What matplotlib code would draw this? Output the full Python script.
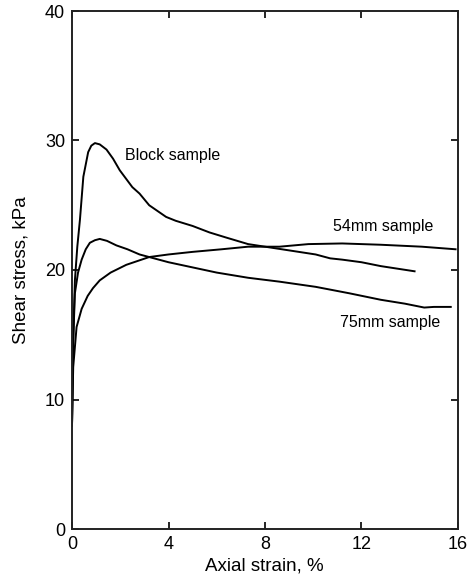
import matplotlib
matplotlib.use("Agg")
import matplotlib.pyplot as plt

plt.rcParams['font.family'] = ['Liberation Sans', 'DejaVu Sans']

# Block sample
block_x = [0, 0.04, 0.12, 0.22, 0.33, 0.47, 0.67, 0.8, 0.95, 1.15, 1.43, 1.7, 1.98, 2.5, 2.8,
           3.2, 3.9, 4.3, 5.0, 5.7, 6.4, 7.3, 8.0, 8.7, 9.4, 10.1, 10.7, 11.2, 12.0, 12.8,
           13.5, 14.2]
block_y = [8, 14, 19.2, 21.8, 23.9, 27.2, 29.1, 29.6, 29.8, 29.7, 29.3, 28.6, 27.7, 26.4, 25.9,
           25.0, 24.1, 23.8, 23.4, 22.9, 22.5, 22.0, 21.8, 21.6, 21.4, 21.2, 20.9, 20.8, 20.6,
           20.3, 20.1, 19.9]

# 75mm sample
s75_x = [0, 0.04, 0.12, 0.25, 0.4, 0.57, 0.74, 0.95, 1.15, 1.45, 1.84, 2.3, 2.8, 3.4, 4.0,
         5.0, 6.0, 7.3, 8.6, 10.1, 11.5, 12.8, 13.8, 14.6, 15.0, 15.7]
s75_y = [8, 14, 18.2, 19.8, 20.8, 21.6, 22.1, 22.3, 22.4, 22.25, 21.9, 21.6, 21.2, 20.9, 20.6,
         20.2, 19.8, 19.4, 19.1, 18.7, 18.2, 17.7, 17.4, 17.1, 17.15, 17.15]

# 54mm sample
s54_x = [0, 0.05, 0.19, 0.4, 0.65, 0.87, 1.15, 1.6, 2.25, 3.2, 4.0, 5.0, 6.2, 7.3, 8.6,
         9.8, 11.2, 12.8, 14.5, 15.9]
s54_y = [8, 12.5, 15.6, 17.0, 18.0, 18.6, 19.2, 19.8, 20.4, 21.0, 21.2, 21.4, 21.6, 21.8, 21.8,
         22.0, 22.05, 21.95, 21.8, 21.6]

x_ticks = [0, 4, 8, 12, 16]
y_ticks = [0, 10, 20, 30, 40]

fig = plt.figure(figsize=(4.75, 5.76), dpi=100)
ax = fig.add_axes([72/475, 1-529/576, (458-72)/475, (529-11)/576])

for xs, ys in [(block_x, block_y), (s75_x, s75_y), (s54_x, s54_y)]:
    ax.plot(xs, ys, color='black', lw=1.4, solid_joinstyle='round')

ax.set_xlim(0, 16)
ax.set_ylim(0, 40)
ax.set_xticks(x_ticks)
ax.set_yticks(y_ticks)
ax.tick_params(direction='in', top=True, right=True, length=5, width=1.2,
               labelsize=13, colors='black', pad=5)
for s in ax.spines.values():
    s.set_linewidth(1.4)
    s.set_color('#222222')

ax.set_xlabel('Axial strain, %', fontsize=13.5)
ax.set_ylabel('Shear stress, kPa', fontsize=13.5)
ax.xaxis.set_label_coords(0.497, -0.055)
ax.yaxis.set_label_coords(-0.11, 0.5)

ax.text(2.2, 28.5, 'Block sample', fontsize=11.5)
ax.text(10.8, 23.0, '54mm sample', fontsize=11.5)
ax.text(11.1, 15.6, '75mm sample', fontsize=11.5)

fig.savefig('out.png', dpi=100)
